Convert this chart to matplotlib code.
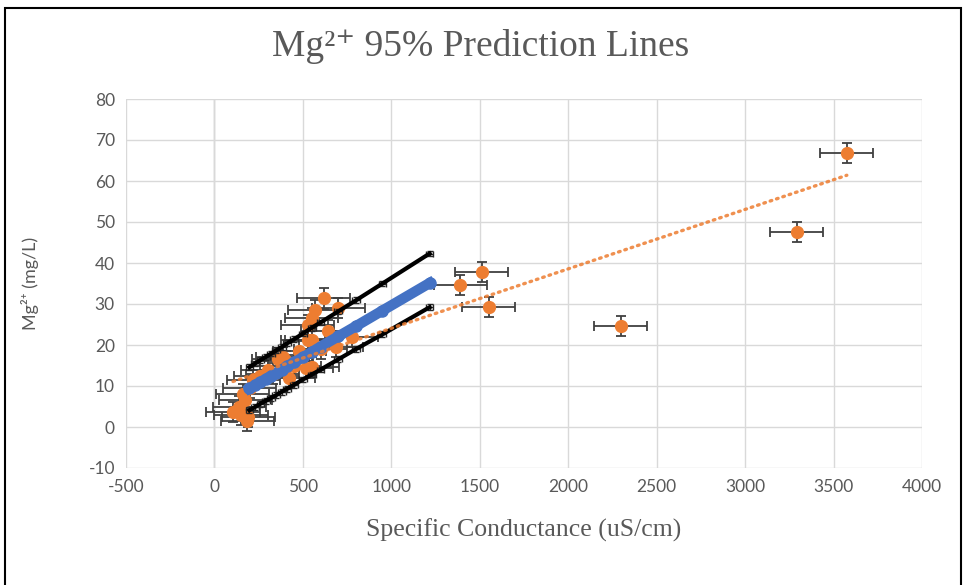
import matplotlib

matplotlib.use("Agg")
import matplotlib.pyplot as plt
from matplotlib.patches import Rectangle

plt.rcParams["axes.unicode_minus"] = False

# ---- measured samples (specific conductance, Mg2+) ----
sc = [105, 140, 150, 160, 175, 185, 190, 200, 220, 260, 300, 330, 360, 385,
      407, 420, 450, 480, 520, 527, 527, 549, 549, 554, 566, 600, 617, 640,
      690, 700, 775, 1391, 1510, 1550, 2296, 3292, 3575]
mg = [3.7, 5.0, 3.0, 8.0, 6.5, 1.5, 2.4, 9.5, 11.5, 12.5, 14.0, 13.0, 16.5, 17.0,
      16.0, 12.0, 15.0, 18.5, 14.4, 21.2, 24.9, 21.2, 26.6, 14.6, 28.5, 19.0, 31.4, 23.5,
      19.5, 29.0, 22.0, 34.6, 37.8, 29.3, 24.6, 47.6, 66.8]
sc_err = 150
mg_err = 2.5

# ---- regression + 95% prediction limits ----
pred_x = [198, 230, 260, 290, 320, 350, 380, 410, 450, 500, 550, 600, 700, 800, 950, 1216]
pred_mid = [9.4, 10.2, 11.0, 11.7, 12.5, 13.2, 14.0, 14.8, 15.8, 17.0, 18.3, 19.6, 22.1, 24.6, 28.4, 35.1]
pred_hi = [14.6, 15.5, 16.3, 17.1, 17.9, 18.7, 19.5, 20.4, 21.4, 22.8, 24.2, 25.5, 28.2, 30.9, 35.0, 42.3]
pred_lo = [4.1, 4.9, 5.7, 6.4, 7.1, 7.8, 8.6, 9.3, 10.3, 11.6, 12.8, 14.0, 16.5, 19.0, 22.6, 29.2]

# ---- linear trendline of all samples ----
trend_x = [105, 3575]
trend_y = [11.1, 61.4]

orange = "#ED7D31"
blue = "#4472C4"
txt = "#595959"
serif = ["Liberation Serif", "DejaVu Serif"]
sans = ["Lato", "DejaVu Sans"]

fig = plt.figure(figsize=(9.64, 5.85), dpi=100)
ax = fig.add_axes([126 / 964, 1 - 468 / 585, 796 / 964, 369 / 585])

for band in (pred_hi, pred_lo):
    ax.errorbar(pred_x, band, xerr=22, yerr=0.7, fmt="-", color="black", lw=3,
                ecolor="#262626", elinewidth=1, capsize=2.5, zorder=4)
ax.plot(pred_x, pred_mid, "-o", color=blue, lw=7.5, ms=8, zorder=5)

ax.errorbar(sc, mg, xerr=sc_err, yerr=mg_err, fmt="o", color=orange, ms=8.5,
            ecolor="#404040", elinewidth=1.3, capsize=3.5, capthick=1.3, zorder=3)
ax.plot(trend_x, trend_y, color=orange, lw=2.4, ls=(0, (0.5, 1.5)), alpha=0.85,
        dash_capstyle="round", zorder=6)

ax.set_xlim(-500, 4000)
ax.set_ylim(-10, 80)
ax.set_xticks(range(-500, 4001, 500))
ax.set_yticks(range(-10, 81, 10))
ax.grid(True, color="#D9D9D9", lw=1)
ax.set_axisbelow(True)
ax.axvline(0, color="#BFBFBF", lw=1, zorder=0.5)
for s in ax.spines.values():
    s.set_visible(False)
ax.tick_params(length=0, labelsize=12.5, labelcolor=txt, pad=8)
for lab in ax.get_xticklabels() + ax.get_yticklabels():
    lab.set_family(sans)

fig.text(0.499, 1 - 47 / 585, "Mg²⁺ 95% Prediction Lines", ha="center",
         va="center", family=serif, fontsize=27, color=txt)
fig.text(524 / 964, 1 - 530 / 585, "Specific Conductance (uS/cm)", ha="center",
         va="center", family=serif, fontsize=18.5, color=txt)
fig.text(30 / 964, 1 - 283 / 585, "Mg²⁺ (mg/L)", rotation=90, ha="center",
         va="center", family=sans, fontsize=13, color=txt)

fig.add_artist(Rectangle((5 / 964, -0.05), 956 / 964, 1.05 - 8 / 585,
                         transform=fig.transFigure, fill=False, lw=1.5,
                         edgecolor="black"))

fig.savefig("out.png", dpi=100)
